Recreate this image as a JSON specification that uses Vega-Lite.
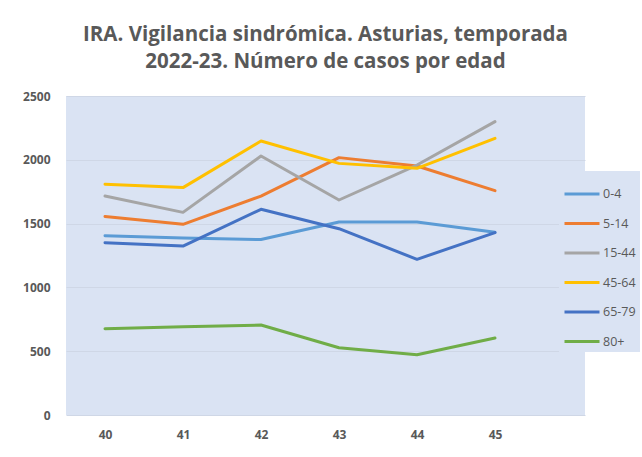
{
  "$schema": "https://vega.github.io/schema/vega-lite/v6.json",
  "autosize": "none",
  "width": 519,
  "height": 319,
  "padding": {"left": 66, "top": 96, "right": 57, "bottom": 42},
  "background": "white",
  "title": {
    "text": ["IRA. Vigilancia sindrómica. Asturias, temporada", "2022-23. Número de casos por edad"],
    "font": "Open Sans",
    "fontSize": 20.5,
    "fontWeight": "bold",
    "color": "#595959",
    "anchor": "middle",
    "lineHeight": 27,
    "offset": 18
  },
  "data": {
    "values": [
      {"semana": 40, "edad": "0-4", "casos": 1405},
      {"semana": 41, "edad": "0-4", "casos": 1387},
      {"semana": 42, "edad": "0-4", "casos": 1375},
      {"semana": 43, "edad": "0-4", "casos": 1512},
      {"semana": 44, "edad": "0-4", "casos": 1512},
      {"semana": 45, "edad": "0-4", "casos": 1432},
      {"semana": 40, "edad": "5-14", "casos": 1556},
      {"semana": 41, "edad": "5-14", "casos": 1494},
      {"semana": 42, "edad": "5-14", "casos": 1716},
      {"semana": 43, "edad": "5-14", "casos": 2017},
      {"semana": 44, "edad": "5-14", "casos": 1951},
      {"semana": 45, "edad": "5-14", "casos": 1758},
      {"semana": 40, "edad": "15-44", "casos": 1716},
      {"semana": 41, "edad": "15-44", "casos": 1588},
      {"semana": 42, "edad": "15-44", "casos": 2030},
      {"semana": 43, "edad": "15-44", "casos": 1685},
      {"semana": 44, "edad": "15-44", "casos": 1959},
      {"semana": 45, "edad": "15-44", "casos": 2299},
      {"semana": 40, "edad": "45-64", "casos": 1808},
      {"semana": 41, "edad": "45-64", "casos": 1782},
      {"semana": 42, "edad": "45-64", "casos": 2147},
      {"semana": 43, "edad": "45-64", "casos": 1972},
      {"semana": 44, "edad": "45-64", "casos": 1933},
      {"semana": 45, "edad": "45-64", "casos": 2168},
      {"semana": 40, "edad": "65-79", "casos": 1350},
      {"semana": 41, "edad": "65-79", "casos": 1324},
      {"semana": 42, "edad": "65-79", "casos": 1612},
      {"semana": 43, "edad": "65-79", "casos": 1460},
      {"semana": 44, "edad": "65-79", "casos": 1220},
      {"semana": 45, "edad": "65-79", "casos": 1429},
      {"semana": 40, "edad": "80+", "casos": 676},
      {"semana": 41, "edad": "80+", "casos": 692},
      {"semana": 42, "edad": "80+", "casos": 705},
      {"semana": 43, "edad": "80+", "casos": 527},
      {"semana": 44, "edad": "80+", "casos": 472},
      {"semana": 45, "edad": "80+", "casos": 603}
    ]
  },
  "mark": {"type": "line", "strokeWidth": 3, "strokeCap": "round", "strokeJoin": "round"},
  "encoding": {
    "x": {
      "field": "semana",
      "type": "quantitative",
      "scale": {"domain": [39.5, 46.154], "nice": false, "zero": false},
      "axis": {
        "title": null,
        "values": [40, 41, 42, 43, 44, 45],
        "format": "d",
        "grid": false,
        "domain": false,
        "ticks": false,
        "labelPadding": 14,
        "labelFont": "Open Sans",
        "labelFontSize": 12,
        "labelFontWeight": "bold",
        "labelColor": "#595959"
      }
    },
    "y": {
      "field": "casos",
      "type": "quantitative",
      "scale": {"domain": [0, 2500], "nice": false},
      "axis": {
        "title": null,
        "values": [0, 500, 1000, 1500, 2000, 2500],
        "format": "d",
        "domain": false,
        "ticks": false,
        "labelPadding": 16,
        "labelFont": "Open Sans",
        "labelFontSize": 12,
        "labelFontWeight": "bold",
        "labelColor": "#595959",
        "gridColor": "#cfd7e6",
        "gridWidth": 1
      }
    },
    "color": {
      "field": "edad",
      "type": "nominal",
      "sort": ["0-4", "5-14", "15-44", "45-64", "65-79", "80+"],
      "scale": {
        "domain": ["0-4", "5-14", "15-44", "45-64", "65-79", "80+"],
        "range": ["#5B9BD5", "#ED7D31", "#A5A5A5", "#FFC000", "#4472C4", "#70AD47"]
      },
      "legend": {
        "title": null,
        "orient": "none",
        "legendX": 493,
        "legendY": 75,
        "fillColor": "#dae3f3",
        "padding": 4,
        "rowPadding": 3.5,
        "symbolType": "stroke",
        "symbolSize": 1225,
        "symbolStrokeWidth": 3,
        "labelFont": "Open Sans",
        "labelFontSize": 12.5,
        "labelColor": "#595959",
        "labelOffset": 2
      }
    }
  },
  "config": {"view": {"fill": "#dae3f3", "stroke": null}}
}
